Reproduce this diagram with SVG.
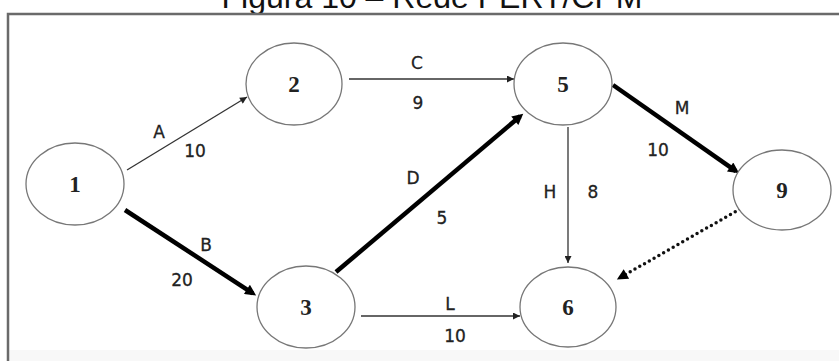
<svg xmlns="http://www.w3.org/2000/svg" width="839" height="361" viewBox="0 0 839 361">
  <defs>
    <marker id="headThin" viewBox="0 0 10 10" refX="10" refY="5" markerWidth="9" markerHeight="7" markerUnits="userSpaceOnUse" orient="auto">
      <path d="M0,0 L10,5 L0,10 z" fill="#222"/>
    </marker>
    <marker id="headThick" viewBox="0 0 10 10" refX="6.4" refY="5" markerWidth="14" markerHeight="11" markerUnits="userSpaceOnUse" orient="auto">
      <path d="M0,0 L10,5 L0,10 z" fill="#000"/>
    </marker>
    <style>
      .title { font-family: "Liberation Sans", Arial, sans-serif; font-size: 32px; fill: #111; text-anchor: middle; }
      .frame { stroke: #6a6a6a; stroke-width: 2.5; fill: none; }
      .node ellipse { fill: #fff; stroke: #777; stroke-width: 1.3; }
      .node text { font-family: "Liberation Serif", "Times New Roman", serif; font-weight: bold; font-size: 23px; fill: #222; text-anchor: middle; }
      .thin { stroke: #333; stroke-width: 1.3; fill: none; marker-end: url(#headThin); }
      .thick { stroke: #000; stroke-width: 4.5; fill: none; marker-end: url(#headThick); }
      .dotted { stroke: #111; stroke-width: 3.5; stroke-linecap: round; stroke-dasharray: 0 5.5; fill: none; marker-end: url(#headThick); }
      .lbl { font-family: "DejaVu Sans", Verdana, sans-serif; font-size: 17px; fill: #222; stroke: #222; stroke-width: 0.3; text-anchor: middle; }
    </style>
  </defs>

  <rect width="839" height="361" fill="#fff"/>
  <rect x="9" y="350" width="830" height="11" fill="#f8f8f8"/>

  <!-- caption, partly above the page edge -->
  <text class="title" x="432" y="8">Figura 10 – Rede PERT/CPM</text>

  <!-- frame: top and left edges -->
  <path class="frame" d="M8,361 L8,14 L839,14"/>

  <!-- activities -->
  <g id="connectors">
    <line class="thin" x1="127" y1="170" x2="247" y2="97"/>
    <line class="thick" x1="125" y1="210" x2="252.8" y2="293.3"/>
    <line class="thin" x1="349" y1="79" x2="514" y2="79"/>
    <line class="thick" x1="336" y1="272" x2="520.2" y2="116.2"/>
    <line class="thin" x1="568" y1="127" x2="568" y2="263"/>
    <line class="thick" x1="613" y1="85" x2="735.9" y2="171.1"/>
    <line class="dotted" x1="740" y1="209" x2="620.3" y2="277.5"/>
    <line class="thin" x1="361" y1="316" x2="520" y2="316"/>

    <text class="lbl" x="159" y="138">A</text>
    <text class="lbl" x="195" y="157">10</text>
    <text class="lbl" x="206" y="251">B</text>
    <text class="lbl" x="182" y="286">20</text>
    <text class="lbl" x="417" y="69">C</text>
    <text class="lbl" x="418" y="109">9</text>
    <text class="lbl" x="413" y="184">D</text>
    <text class="lbl" x="442" y="224">5</text>
    <text class="lbl" x="550" y="198">H</text>
    <text class="lbl" x="593" y="198">8</text>
    <text class="lbl" x="682" y="114">M</text>
    <text class="lbl" x="658" y="156">10</text>
    <text class="lbl" x="450" y="310">L</text>
    <text class="lbl" x="455" y="342">10</text>
  </g>

  <!-- events -->
  <g id="node1" class="node">
    <ellipse cx="75" cy="184" rx="49" ry="41"/>
    <text x="75" y="192">1</text>
  </g>
  <g id="node2" class="node">
    <ellipse cx="294" cy="84" rx="48" ry="41"/>
    <text x="294" y="92">2</text>
  </g>
  <g id="node3" class="node">
    <ellipse cx="306" cy="307" rx="49" ry="41"/>
    <text x="306" y="315">3</text>
  </g>
  <g id="node5" class="node">
    <ellipse cx="563" cy="84" rx="49" ry="41"/>
    <text x="563" y="92">5</text>
  </g>
  <g id="node6" class="node">
    <ellipse cx="568" cy="307" rx="48" ry="40"/>
    <text x="568" y="315">6</text>
  </g>
  <g id="node9" class="node">
    <ellipse cx="782" cy="190" rx="49" ry="40"/>
    <text x="782" y="198">9</text>
  </g>
</svg>
